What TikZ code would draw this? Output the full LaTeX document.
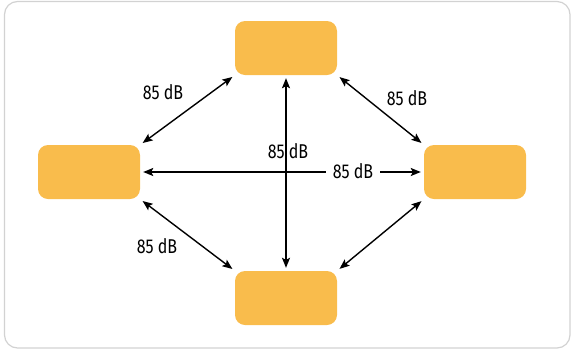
\documentclass[tikz,border=0pt]{standalone}
\usepackage{fontspec}
\newfontfamily\lblfont[FakeStretch=0.8]{Fira Sans}
\usetikzlibrary{arrows.meta}
\definecolor{boxorange}{HTML}{F9BC4C}
\definecolor{framegray}{HTML}{D2D2D2}
\tikzset{
  unit/.style={fill=boxorange,rounded corners=10pt,minimum width=102pt,minimum height=54pt,inner sep=0pt},
  link/.style={{Stealth[length=10pt,width=8pt,inset=2pt]}-{Stealth[length=10pt,width=8pt,inset=2pt]},line width=1.4pt,shorten <=3pt,shorten >=3pt},
  lbl/.style={font=\lblfont\fontsize{20}{22}\selectfont,inner sep=1pt}
}
\begin{document}
\begin{tikzpicture}[x=1pt,y=-1pt]
            \useasboundingbox (0,0) rectangle (571,349);
            \draw[framegray,line width=1.2pt,rounded corners=13pt] (4.5,1.5) rectangle (570,348);
            % the four units
            \node[unit] (top) at (286,48) {};
            \node[unit] (left) at (89,172) {};
            \node[unit] (right) at (475,172) {};
            \node[unit] (bottom) at (286,298) {};
            % links
            \draw[link] (top.south) -- (bottom.north);
            \draw[link] (left.east) -- (right.west);
            \foreach \a/\b in {top.south west/left.north east,top.south east/right.north west,left.south east/bottom.north west,right.south west/bottom.north east}
                \draw[link] (\a) -- (\b);
            % labels
            \node[lbl] (lblTL) at (163,92) {85 dB};
            \node[lbl] (lblTR) at (407,98) {85 dB};
            \node[lbl] (lblC) at (288,151) {85 dB};
            \node[lbl,fill=white,inner xsep=7pt] (lblH) at (353,171) {85 dB};
            \node[lbl] (lblBL) at (157,246) {85 dB};
\end{tikzpicture}
\end{document}
